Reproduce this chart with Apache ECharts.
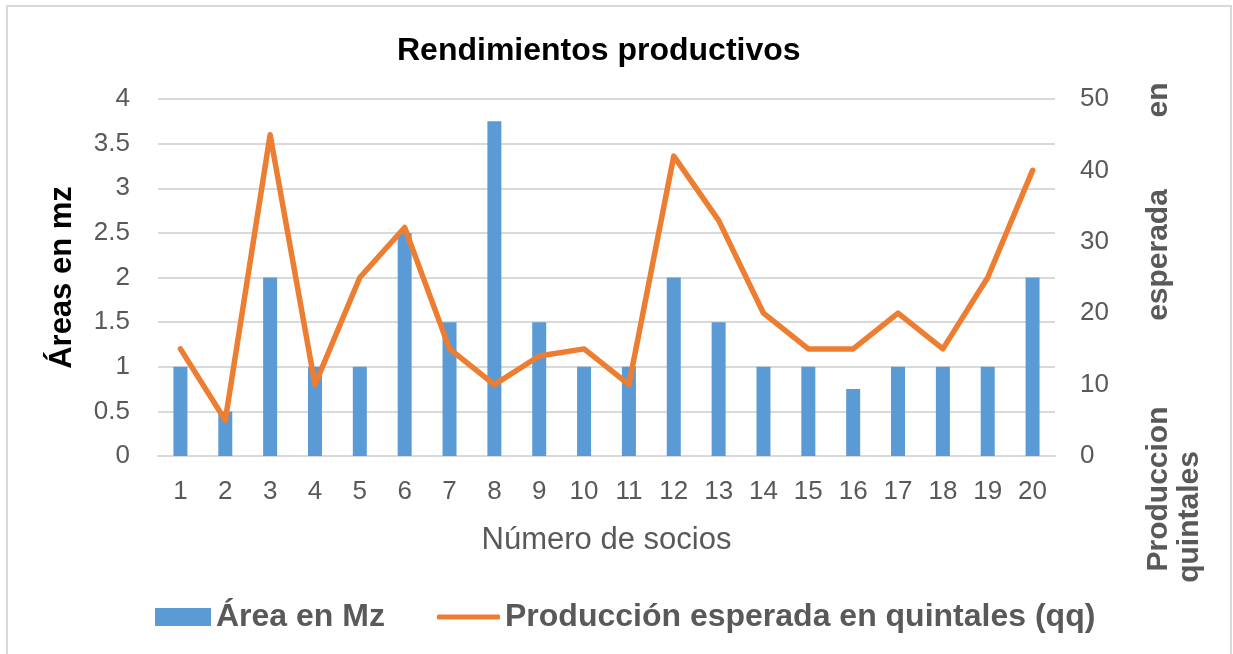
<!DOCTYPE html>
<html>
<head>
<meta charset="utf-8">
<script src="https://cdn.jsdelivr.net/npm/echarts@6/dist/echarts.min.js"></script>
<style>
html,body{margin:0;padding:0;background:#fff;}
#chart{width:1233px;height:654px;}
</style>
</head>
<body>
<div id="chart"></div>
<script>
const categories = ['1','2','3','4','5','6','7','8','9','10','11','12','13','14','15','16','17','18','19','20'];
const areaMz = [1, 0.5, 2, 1, 1, 2.5, 1.5, 3.75, 1.5, 1, 1, 2, 1.5, 1, 1, 0.75, 1, 1, 1, 2];
const produccionQQ = [15, 5, 45, 10, 25, 32, 15, 10, 14, 15, 10, 42, 33, 20, 15, 15, 20, 15, 25, 40];
const seriesNames = ['Área en Mz', 'Producción esperada en quintales (qq)'];
const titleText = 'Rendimientos productivos';
const xAxisName = 'Número de socios';
const leftAxisName = 'Áreas en mz';
const rightAxisWords = ['Produccion', 'esperada', 'en', 'quintales'];

const FONT = 'Liberation Sans, Arial, sans-serif';
const GRAY = '#595959';
const BLUE = '#5B9BD5';
const ORANGE = '#ED7D31';

const legendText = {fontSize: 32, fontWeight: 'bold', color: GRAY, fontFamily: FONT};
const rightWord = (t, x, y) => ({
  type: 'text', x: x, y: y, rotation: Math.PI / 2,
  style: {text: t, font: 'bold 30px ' + FONT, fill: GRAY, align: 'center', verticalAlign: 'middle'}
});

const chart = echarts.init(document.getElementById('chart'), null, {renderer: 'canvas'});
chart.setOption({
  backgroundColor: '#fff',
  animation: false,
  textStyle: {fontFamily: FONT},
  title: {
    text: titleText,
    left: 392,
    top: 30,
    textStyle: {fontSize: 32, fontWeight: 'bold', color: '#000', fontFamily: FONT}
  },
  legend: [
    {
      left: 150, top: 596,
      itemWidth: 56, itemHeight: 18,
      textStyle: legendText,
      data: [{name: seriesNames[0], icon: 'rect'}]
    },
    {
      left: 432, top: 596,
      itemWidth: 63, itemHeight: 5,
      textStyle: legendText,
      data: [{name: seriesNames[1], icon: 'roundRect'}]
    }
  ],
  grid: {left: 158, right: 178, top: 99, bottom: 198, containLabel: false},
  xAxis: {
    type: 'category',
    data: categories,
    axisLine: {show: true, lineStyle: {color: '#d9d9d9', width: 2}},
    axisTick: {show: false},
    axisLabel: {fontSize: 26, color: GRAY, margin: 23},
    name: xAxisName,
    nameLocation: 'middle',
    nameGap: 69,
    nameTextStyle: {fontSize: 31, color: GRAY}
  },
  yAxis: [
    {
      type: 'value', min: 0, max: 4, interval: 0.5,
      axisLine: {show: false}, axisTick: {show: false},
      axisLabel: {fontSize: 26, color: GRAY, margin: 28},
      splitLine: {show: true, lineStyle: {color: '#d9d9d9', width: 2}},
      name: leftAxisName,
      nameLocation: 'middle',
      nameGap: 80,
      nameTextStyle: {fontSize: 31, fontWeight: 'bold', color: '#000'}
    },
    {
      type: 'value', min: 0, max: 50, interval: 10,
      axisLine: {show: false}, axisTick: {show: false},
      axisLabel: {fontSize: 26, color: GRAY, margin: 25},
      splitLine: {show: false}
    }
  ],
  series: [
    {
      name: seriesNames[0], type: 'bar', data: areaMz, barWidth: 14,
      itemStyle: {color: BLUE}, yAxisIndex: 0
    },
    {
      name: seriesNames[1], type: 'line', data: produccionQQ, yAxisIndex: 1,
      symbol: 'none', lineStyle: {color: ORANGE, width: 5.5, cap: 'round', join: 'round'},
      itemStyle: {color: ORANGE}
    }
  ],
  graphic: [
    {type: 'rect', shape: {x: 7, y: 6, width: 1224, height: 700}, style: {fill: 'none', stroke: '#d9d9d9', lineWidth: 2}, silent: true, z: -10},
    rightWord(rightAxisWords[0], 1159, 489),
    rightWord(rightAxisWords[1], 1159, 255),
    rightWord(rightAxisWords[2], 1159, 100),
    rightWord(rightAxisWords[3], 1190, 517)
  ]
});
</script>
</body>
</html>
